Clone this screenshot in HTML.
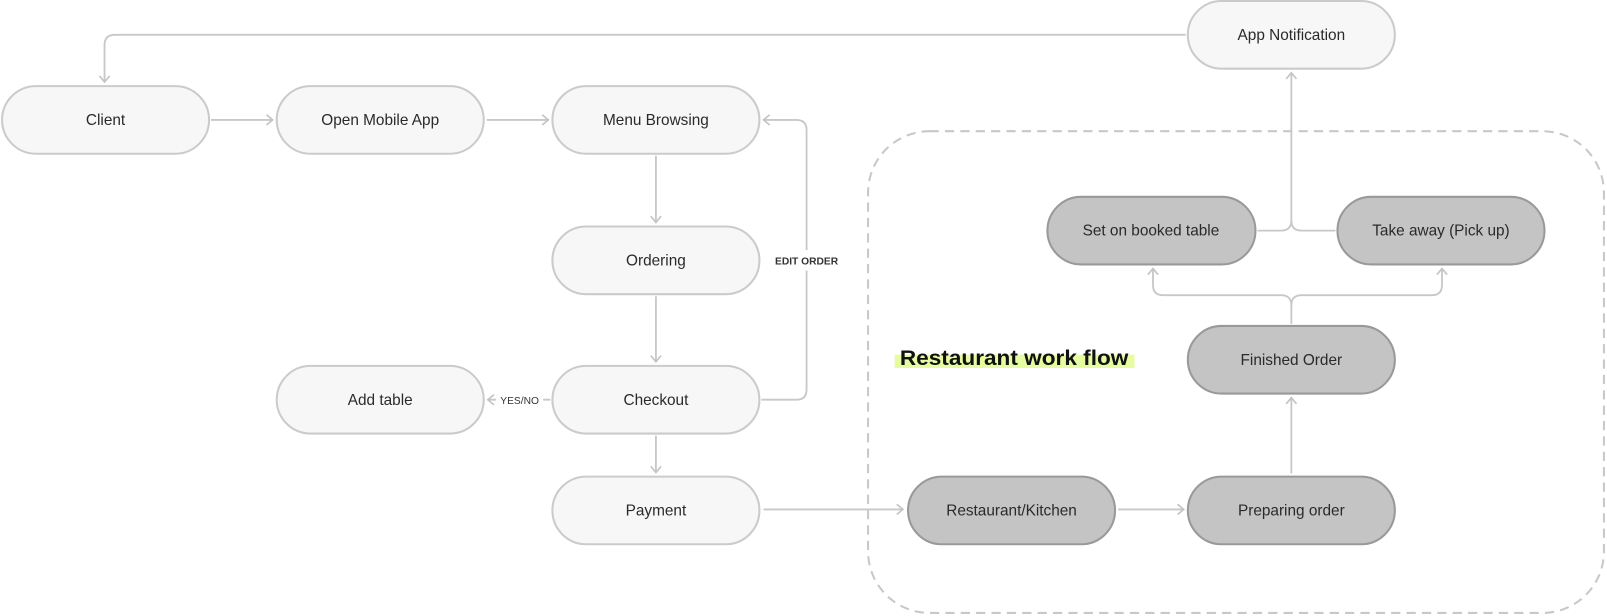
<!DOCTYPE html>
<html><head><meta charset="utf-8"><style>
html,body{margin:0;padding:0;background:#fff;}
svg{display:block;}
text{font-family:"Liberation Sans",sans-serif;}
</style></head><body>
<svg width="1607" height="616" viewBox="0 0 1568 601" preserveAspectRatio="none" xmlns="http://www.w3.org/2000/svg">
<defs>
<marker id="a" markerWidth="12" markerHeight="12" refX="10" refY="6" orient="auto" markerUnits="userSpaceOnUse">
<path d="M4,1 L10,6 L4,11" fill="none" stroke="#c4c4c4" stroke-width="1.6"/>
</marker>
</defs>
<rect x="847" y="128" width="718" height="470" rx="60" fill="none" stroke="#c8c8c8" stroke-width="2" stroke-dasharray="9,6"/>
<g fill="none" stroke="#c8c8c8" stroke-width="1.8">
<path d="M1157,34 H112 Q102,34 102,44 V80" marker-end="url(#a)"/>
<path d="M206,117 H266" marker-end="url(#a)"/>
<path d="M475,117 H535" marker-end="url(#a)"/>
<path d="M640,152 V217" marker-end="url(#a)"/>
<path d="M640,289 V353" marker-end="url(#a)"/>
<path d="M640,425 V461" marker-end="url(#a)"/>
<path d="M743,390 H777 Q787,390 787,380 V127 Q787,117 777,117 H745" marker-end="url(#a)"/>
<path d="M537,390 H476" marker-end="url(#a)"/>
<path d="M745,497 H881" marker-end="url(#a)"/>
<path d="M1091,497 H1155" marker-end="url(#a)"/>
<path d="M1260,462 V388" marker-end="url(#a)"/>
<path d="M1260,316 V298 Q1260,288 1250,288 H1135 Q1125,288 1125,278 V262" marker-end="url(#a)"/>
<path d="M1260,298 Q1260,288 1270,288 H1397 Q1407,288 1407,278 V262" marker-end="url(#a)"/>
<path d="M1227,225 H1250 Q1260,225 1260,215 V71" marker-end="url(#a)"/>
<path d="M1303,225 H1270 Q1260,225 1260,215"/>
</g>
<rect x="752" y="244" width="70" height="20" fill="#fff"/>
<text x="787" y="258" font-size="10" font-weight="bold" fill="#333" text-anchor="middle">EDIT ORDER</text>
<rect x="484" y="381" width="46" height="18" fill="#fff"/>
<text x="507" y="394" font-size="10" fill="#333" text-anchor="middle">YES/NO</text>
<g stroke="#cbcbcb" stroke-width="2" fill="#f7f7f7">
<rect x="2" y="84" width="202" height="66" rx="33"/>
<rect x="270" y="84" width="202" height="66" rx="33"/>
<rect x="539" y="84" width="202" height="66" rx="33"/>
<rect x="539" y="221" width="202" height="66" rx="33"/>
<rect x="539" y="357" width="202" height="66" rx="33"/>
<rect x="270" y="357" width="202" height="66" rx="33"/>
<rect x="539" y="465" width="202" height="66" rx="33"/>
<rect x="1159" y="1" width="202" height="66" rx="33"/>
</g>
<g stroke="#999" stroke-width="2" fill="#c4c4c4">
<rect x="886" y="465" width="202" height="66" rx="33"/>
<rect x="1159" y="465" width="202" height="66" rx="33"/>
<rect x="1159" y="318" width="202" height="66" rx="33"/>
<rect x="1022" y="192" width="203" height="66" rx="33"/>
<rect x="1305" y="192" width="202" height="66" rx="33"/>
</g>
<g font-size="15" fill="#2a2a2a" text-anchor="middle">
<text x="103" y="122">Client</text>
<text x="371" y="122">Open Mobile App</text>
<text x="640" y="122">Menu Browsing</text>
<text x="640" y="259">Ordering</text>
<text x="640" y="395">Checkout</text>
<text x="371" y="395">Add table</text>
<text x="640" y="503">Payment</text>
<text x="1260" y="39">App Notification</text>
<text x="987" y="503">Restaurant/Kitchen</text>
<text x="1260" y="503">Preparing order</text>
<text x="1260" y="356">Finished Order</text>
<text x="1123" y="230">Set on booked table</text>
<text x="1406" y="230">Take away (Pick up)</text>
</g>
<rect x="873" y="346" width="234" height="13" fill="#e6fca0"/>
<text x="878" y="356" font-size="21" font-weight="bold" fill="#111" textLength="223" lengthAdjust="spacingAndGlyphs">Restaurant work flow</text>
</svg>
</body></html>
